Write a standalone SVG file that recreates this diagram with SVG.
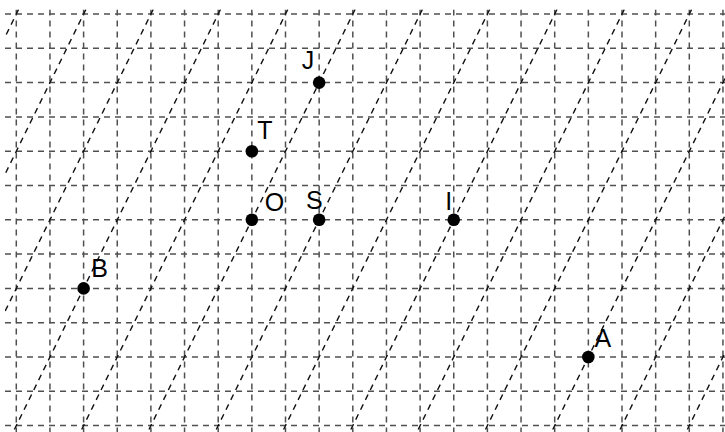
<svg xmlns="http://www.w3.org/2000/svg" width="725" height="432" viewBox="0 0 725 432">
<style>
.g{stroke:#505050;stroke-width:1.5;stroke-dasharray:6,5;fill:none}
.d{stroke:#111;stroke-width:1.4;stroke-dasharray:6,5;fill:none}
.pt{fill:#000}
.lb{font-family:"Liberation Sans",Arial,sans-serif;font-size:25px;fill:#000}
</style>
<defs><clipPath id="c"><rect x="5" y="9.5" width="720" height="423"/></clipPath></defs>
<rect width="725" height="432" fill="#fff"/>
<g id="connectors" clip-path="url(#c)">
<g id="grid-h">
<line class="g" x1="5" y1="14" x2="725" y2="14"/>
<line class="g" x1="5" y1="48.3" x2="725" y2="48.3"/>
<line class="g" x1="5" y1="82.6" x2="725" y2="82.6"/>
<line class="g" x1="5" y1="116.9" x2="725" y2="116.9"/>
<line class="g" x1="5" y1="151.2" x2="725" y2="151.2"/>
<line class="g" x1="5" y1="185.5" x2="725" y2="185.5"/>
<line class="g" x1="5" y1="219.8" x2="725" y2="219.8"/>
<line class="g" x1="5" y1="254.1" x2="725" y2="254.1"/>
<line class="g" x1="5" y1="288.4" x2="725" y2="288.4"/>
<line class="g" x1="5" y1="322.7" x2="725" y2="322.7"/>
<line class="g" x1="5" y1="357" x2="725" y2="357"/>
<line class="g" x1="5" y1="391.3" x2="725" y2="391.3"/>
<line class="g" x1="5" y1="425.6" x2="725" y2="425.6"/>
</g>
<g id="grid-v">
<line class="g" x1="16.3" y1="9.5" x2="16.3" y2="432"/>
<line class="g" x1="49.95" y1="9.5" x2="49.95" y2="432"/>
<line class="g" x1="83.6" y1="9.5" x2="83.6" y2="432"/>
<line class="g" x1="117.25" y1="9.5" x2="117.25" y2="432"/>
<line class="g" x1="150.9" y1="9.5" x2="150.9" y2="432"/>
<line class="g" x1="184.55" y1="9.5" x2="184.55" y2="432"/>
<line class="g" x1="218.2" y1="9.5" x2="218.2" y2="432"/>
<line class="g" x1="251.85" y1="9.5" x2="251.85" y2="432"/>
<line class="g" x1="285.5" y1="9.5" x2="285.5" y2="432"/>
<line class="g" x1="319.15" y1="9.5" x2="319.15" y2="432"/>
<line class="g" x1="352.8" y1="9.5" x2="352.8" y2="432"/>
<line class="g" x1="386.45" y1="9.5" x2="386.45" y2="432"/>
<line class="g" x1="420.1" y1="9.5" x2="420.1" y2="432"/>
<line class="g" x1="453.75" y1="9.5" x2="453.75" y2="432"/>
<line class="g" x1="487.4" y1="9.5" x2="487.4" y2="432"/>
<line class="g" x1="521.05" y1="9.5" x2="521.05" y2="432"/>
<line class="g" x1="554.7" y1="9.5" x2="554.7" y2="432"/>
<line class="g" x1="588.35" y1="9.5" x2="588.35" y2="432"/>
<line class="g" x1="622" y1="9.5" x2="622" y2="432"/>
<line class="g" x1="655.65" y1="9.5" x2="655.65" y2="432"/>
<line class="g" x1="689.3" y1="9.5" x2="689.3" y2="432"/>
<line class="g" x1="722.95" y1="9.5" x2="722.95" y2="432"/>
</g>
<g id="diagonals">
<line class="d" x1="33.13" y1="-20.3" x2="-202.43" y2="459.9"/>
<line class="d" x1="100.43" y1="-20.3" x2="-135.13" y2="459.9"/>
<line class="d" x1="167.73" y1="-20.3" x2="-67.83" y2="459.9"/>
<line class="d" x1="235.03" y1="-20.3" x2="-0.53" y2="459.9"/>
<line class="d" x1="302.33" y1="-20.3" x2="66.77" y2="459.9"/>
<line class="d" x1="369.63" y1="-20.3" x2="134.07" y2="459.9"/>
<line class="d" x1="436.93" y1="-20.3" x2="201.37" y2="459.9"/>
<line class="d" x1="504.23" y1="-20.3" x2="268.67" y2="459.9"/>
<line class="d" x1="571.53" y1="-20.3" x2="335.97" y2="459.9"/>
<line class="d" x1="638.83" y1="-20.3" x2="403.27" y2="459.9"/>
<line class="d" x1="706.13" y1="-20.3" x2="470.57" y2="459.9"/>
<line class="d" x1="773.43" y1="-20.3" x2="537.87" y2="459.9"/>
<line class="d" x1="840.73" y1="-20.3" x2="605.17" y2="459.9"/>
<line class="d" x1="908.03" y1="-20.3" x2="672.47" y2="459.9"/>
</g>
</g>
<g id="B"><circle class="pt" cx="83.6" cy="288.4" r="6.3"/><text class="lb" x="91.3" y="277">B</text></g>
<g id="O"><circle class="pt" cx="251.85" cy="219.8" r="6.3"/><text class="lb" x="264.8" y="210.8">O</text></g>
<g id="T"><circle class="pt" cx="251.85" cy="151.2" r="6.3"/><text class="lb" x="257.3" y="138.7">T</text></g>
<g id="S"><circle class="pt" cx="319.15" cy="219.8" r="6.3"/><text class="lb" x="306" y="209">S</text></g>
<g id="J"><circle class="pt" cx="319.15" cy="82.6" r="6.3"/><text class="lb" x="301.8" y="68.5">J</text></g>
<g id="I"><circle class="pt" cx="453.75" cy="219.8" r="6.3"/><text class="lb" x="445.3" y="210.3">I</text></g>
<g id="A"><circle class="pt" cx="588.35" cy="357" r="6.3"/><text class="lb" x="594.5" y="347">A</text></g>
</svg>
